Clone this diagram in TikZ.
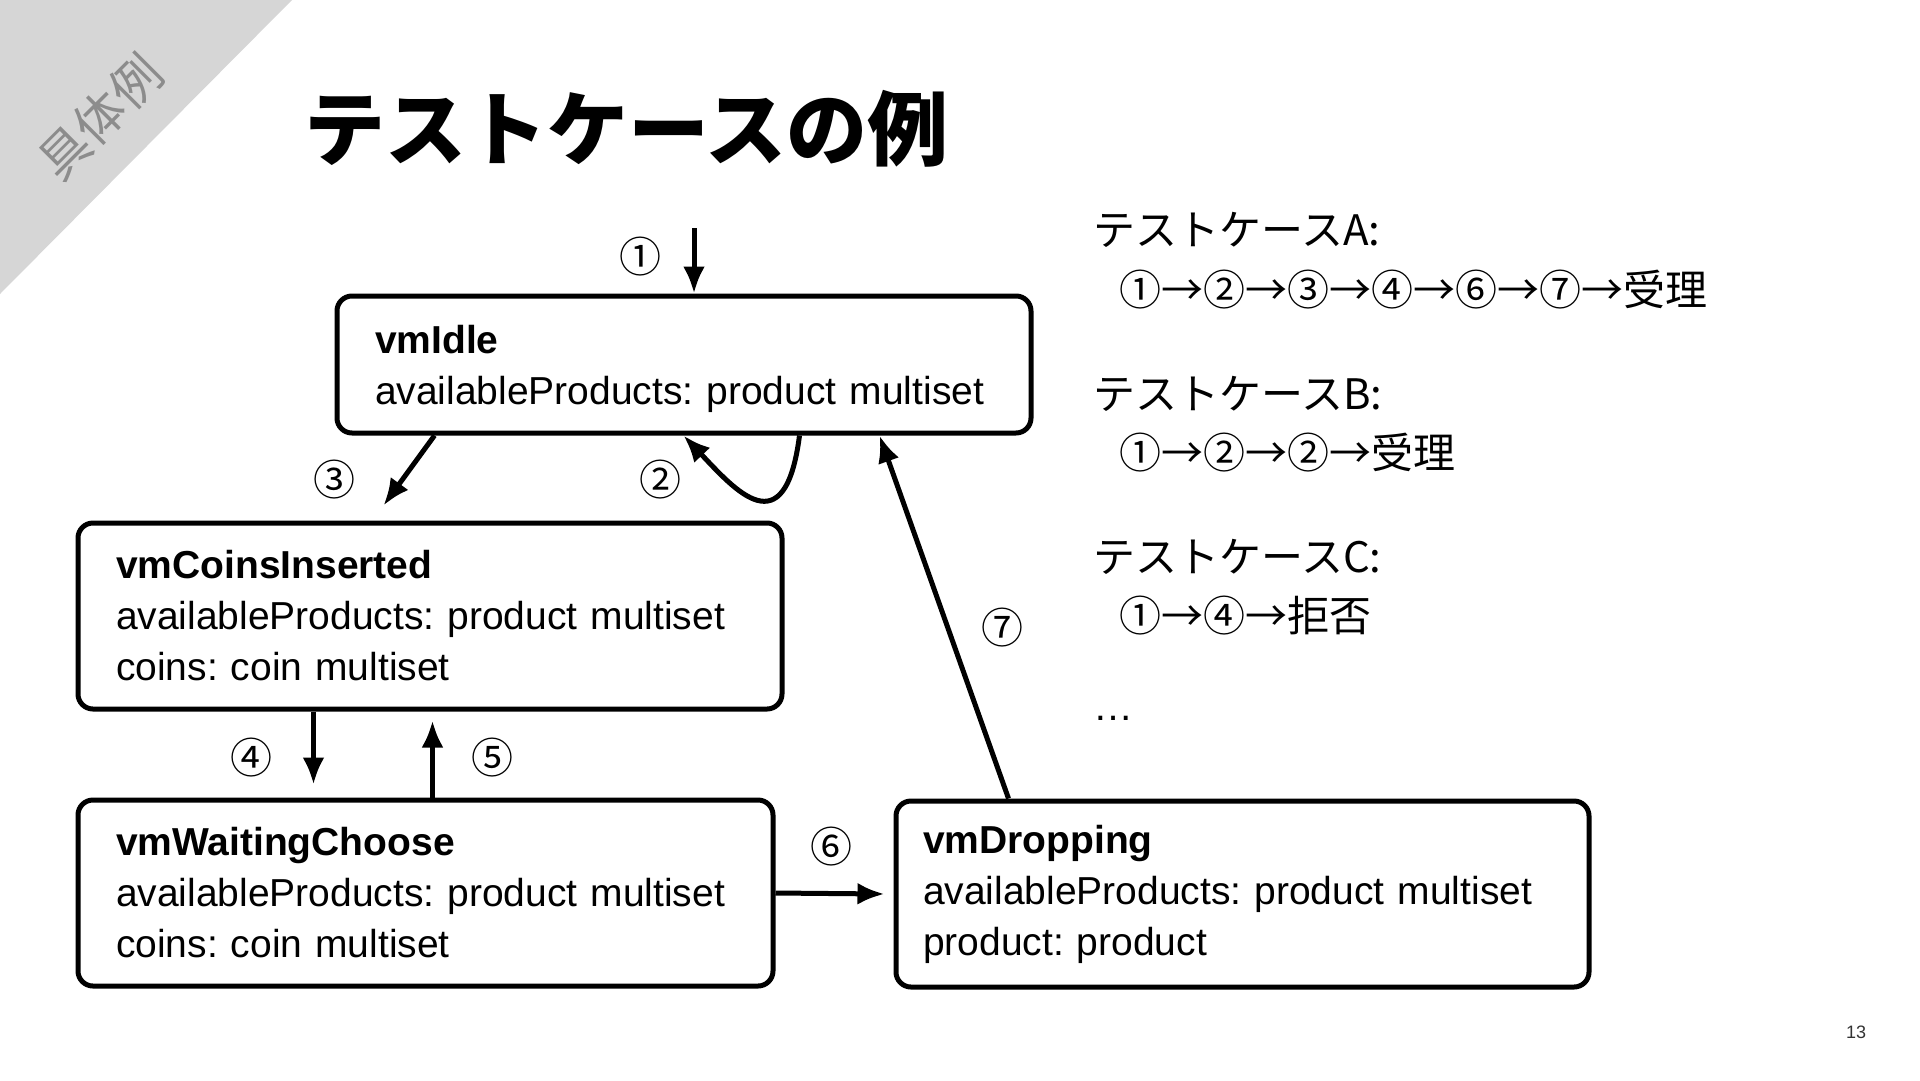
\documentclass[tikz,border=0pt]{standalone}
\usepackage{fontspec}
\setmainfont{Liberation Sans}
\newfontfamily\jpfont{Noto Sans CJK JP}
\usetikzlibrary{arrows.meta}
\definecolor{bandgray}{HTML}{D6D6D6}
\definecolor{taggray}{HTML}{8C8C8C}
\definecolor{pagegray}{HTML}{333333}
\tikzset{state/.style = {draw,line width=5pt,rounded corners=15pt,align=left,inner xsep=38pt,inner ysep=0pt,font=\fontsize{39}{51}\selectfont\frenchspacing}}
\tikzset{arr/.style = {line width=5pt,-{Latex[length=27pt,width=22pt]}}}
\tikzset{num/.style = {inner sep=0pt,font=\jpfont\fontsize{42}{42}\selectfont}}
\tikzset{case/.style = {anchor=west,inner sep=0pt,font=\jpfont\fontsize{42}{42}\selectfont}}

\begin{document}
\begin{tikzpicture}[x=1pt, y=-1pt]
            \useasboundingbox (0,0) rectangle (1920,1080);
            \fill[bandgray] (0,0) -- (292,0) -- (0,294) -- cycle;
            \node[rotate=45, text=taggray, font=\jpfont\fontsize{50}{50}\selectfont] (tag) at (100,117) {具体例};
            \node[font=\jpfont\bfseries\fontsize{81}{81}\selectfont] (title) at (626,129) {テストケースの例};

            \node[state, minimum width=694, minimum height=137, text width=618] (idle) at (684,364.5) {\rule{0pt}{38pt}\textbf{vmIdle}\\availableProducts: product multiset};
            \node[state, minimum width=704, minimum height=186, text width=628] (coins) at (430,616) {\textbf{vmCoinsInserted}\\availableProducts: product multiset\\coins: coin multiset};
            \node[state, minimum width=695, minimum height=186, text width=619] (wait) at (425.5,893) {\textbf{vmWaitingChoose}\\availableProducts: product multiset\\coins: coin multiset};
            \node[state, inner xsep=27pt, minimum width=693, minimum height=186, text width=639] (drop) at (1242.5,894) {\textbf{vmDropping}\\availableProducts: product multiset\\product: product};

            \coordinate (entry) at (694,228);
            \draw[arr] (entry) -- (entry |- idle.north);
            \node[num] (n1) at (640,257) {①};
            \draw[arr] ([xshift=465pt]idle.south west) .. controls (785,548) and (735,490) .. ([xshift=349pt]idle.south west);
            \node[num] (n2) at (660,480) {②};
            \draw[arr] ([xshift=100pt]idle.south west) -- ([xshift=308pt,yshift=15pt]coins.north west);
            \node[num] (n3) at (334,480) {③};
            \draw[arr] ([xshift=238pt]coins.south west) -- ([xshift=238pt,yshift=13pt]wait.north west);
            \node[num] (n4) at (251,758) {④};
            \draw[arr] ([xshift=357pt]wait.north west) -- ([xshift=357pt,yshift=-9pt]coins.south west);
            \node[num] (n5) at (492,758) {⑤};
            \draw[arr] (wait.east) -- ([xshift=-9pt]drop.west);
            \node[num] (n6) at (831,847) {⑥};
            \draw[arr] ([xshift=115pt]drop.north west) -- ([xshift=545pt]idle.south west);
            \node[num] (n7) at (1002,628) {⑦};

            \node[case] (caseA) at (1093,230) {テストケースA:};
            \node[case] (seqA) at (1119,290) {①→②→③→④→⑥→⑦→受理};
            \node[case] (caseB) at (1093,394) {テストケースB:};
            \node[case] (seqB) at (1119,453) {①→②→②→受理};
            \node[case] (caseC) at (1093,557) {テストケースC:};
            \node[case] (seqC) at (1119,616) {①→④→拒否};
            \node[anchor=base west, inner sep=0pt, font=\fontsize{40}{40}\selectfont] (more) at (1093,720) {…};

            \node[text=pagegray, font=\fontsize{18}{18}\selectfont] (page) at (1856,1032) {13};
        \end{tikzpicture}
\end{document}
